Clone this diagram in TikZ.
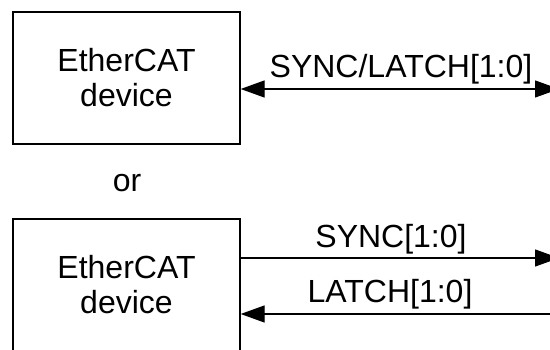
\documentclass[tikz,border=0pt]{standalone}
\usepackage{fontspec}
\setmainfont{Liberation Sans}
\usetikzlibrary{arrows.meta}
\begin{document}
\begin{tikzpicture}[x=1pt,y=-1pt,
  dev/.style={draw,line width=1.3pt,minimum width=227pt,minimum height=132pt,inner sep=0pt,align=center,font=\fontsize{32}{35}\selectfont},
  lbl/.style={anchor=base,inner sep=0pt,font=\fontsize{32}{35}\selectfont},
  sig/.style={line width=1.3pt,-{Triangle[length=24pt,width=17pt]}},
  bsig/.style={line width=1.3pt,{Triangle[length=24pt,width=17pt]}-{Triangle[length=24pt,width=17pt]}}]
\useasboundingbox (0,0) rectangle (550,350);
\clip (0,0) rectangle (550,350);
\fill[white] (0,0) rectangle (550,350);
\node[dev] (box1) at (126.5,78) {EtherCAT\\device};
\node[dev] (box2) at (126.5,285) {EtherCAT\\device};
\coordinate (r1) at (559,89);
\coordinate (r2) at (559,258);
\coordinate (r3) at (560,314);
\draw[bsig] (box1.east |- r1) -- (r1);
\draw[sig] (box2.east |- r2) -- (r2);
\draw[sig] (r3) -- (box2.east |- r3);
\node[lbl] (l1) at (401,78) {SYNC/LATCH[1:0]};
\node[lbl] (l2) at (391,248) {SYNC[1:0]};
\node[lbl] (l3) at (390,303) {LATCH[1:0]};
\node[lbl] (or) at (127,192) {or};
\end{tikzpicture}
\end{document}
